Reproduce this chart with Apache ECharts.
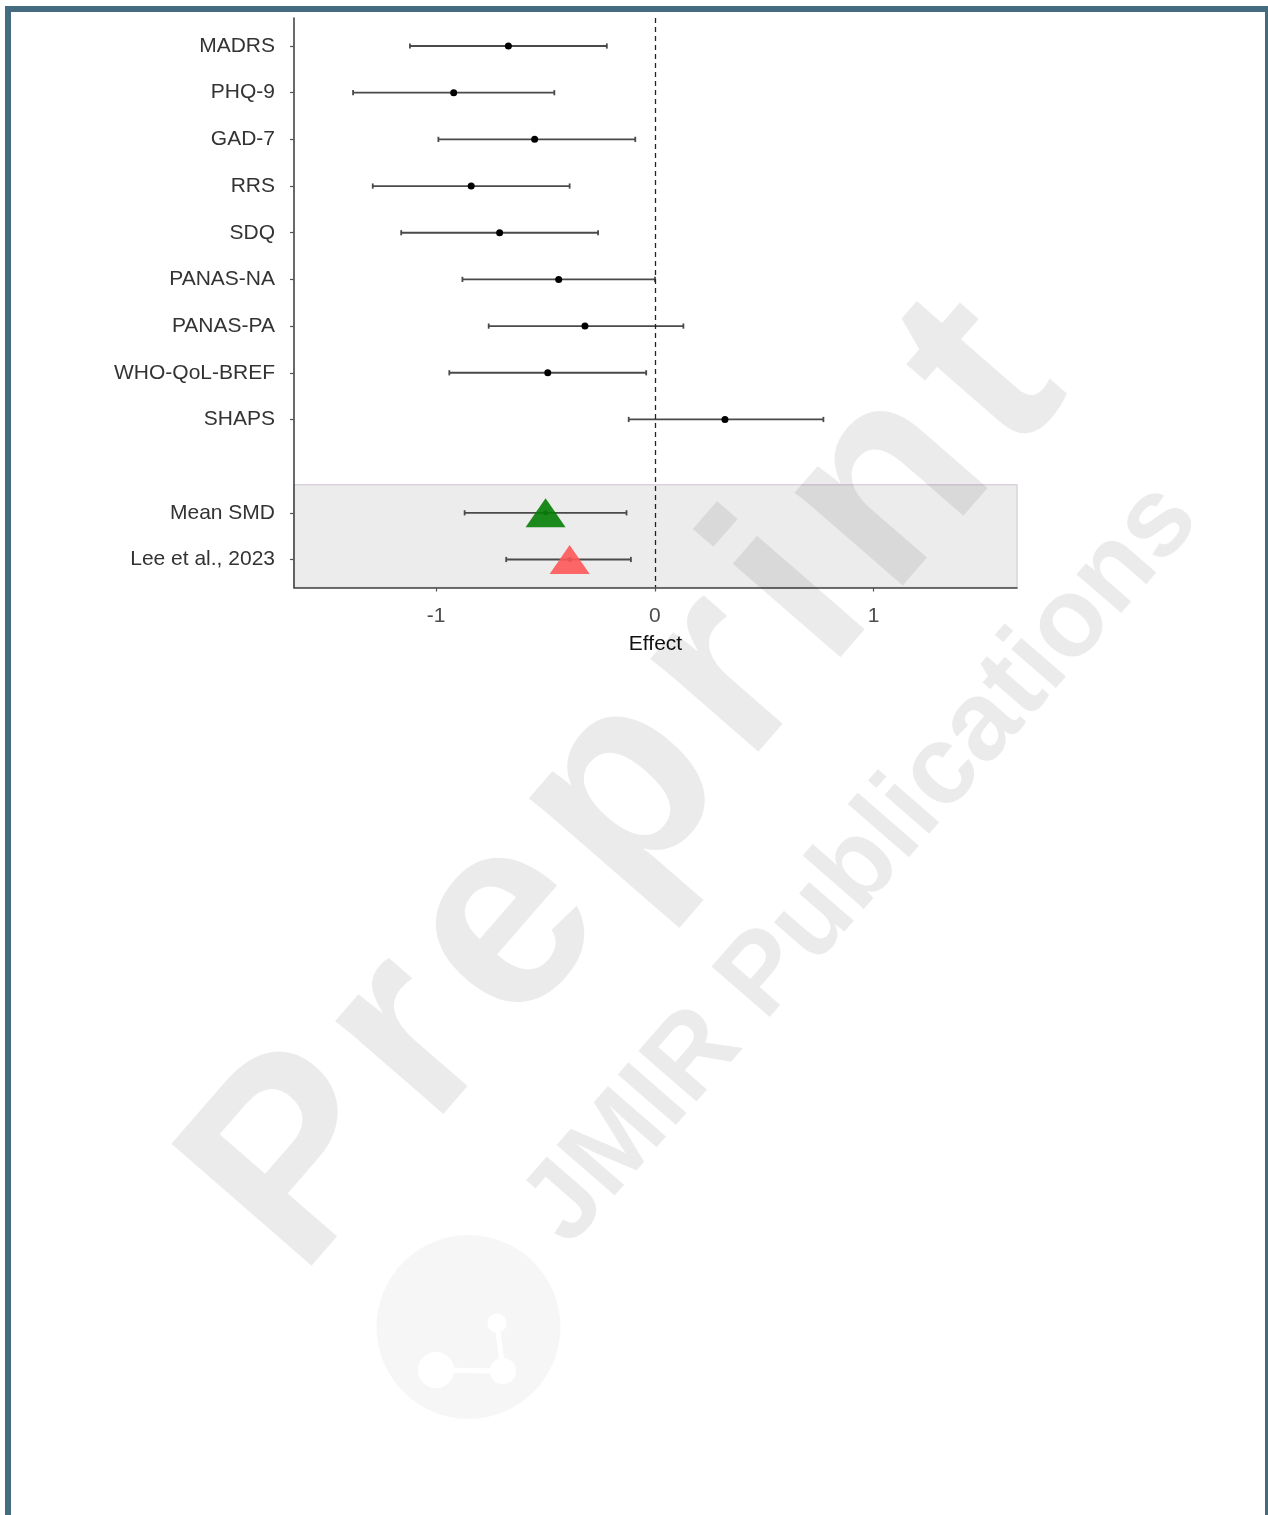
<!DOCTYPE html>
<html>
<head>
<meta charset="utf-8">
<title>Effect sizes by outcome measure</title>
<script src="https://cdn.jsdelivr.net/npm/echarts@6/dist/echarts.min.js"></script>
<style>
  html, body { margin: 0; padding: 0; background: #ffffff; overflow: hidden; }
  #frame {
    position: absolute; left: 5px; top: 6px;
    width: 1254px; height: 1530px;
    border: 6px solid #456b80; border-bottom: none;
    background: #ffffff;
  }
  #chart { position: absolute; left: 0; top: 0; width: 1268px; height: 1515px; }
</style>
</head>
<body>
<div id="frame"></div>
<div id="chart"></div>
<script>
// Individual outcome measures: standardised mean difference with 95% CI
const measures = ['MADRS', 'PHQ-9', 'GAD-7', 'RRS', 'SDQ', 'PANAS-NA', 'PANAS-PA', 'WHO-QoL-BREF', 'SHAPS'];
const estimate = [-0.67, -0.92, -0.55, -0.84, -0.71, -0.44, -0.32, -0.49, 0.32];
const lower    = [-1.12, -1.38, -0.99, -1.29, -1.16, -0.88, -0.76, -0.94, -0.12];
const upper    = [-0.22, -0.46, -0.09, -0.39, -0.26, 0.00, 0.13, -0.04, 0.77];

// Pooled results shown in the shaded panel
const pooledLabels   = ['Mean SMD', 'Lee et al., 2023'];
const pooledEstimate = [-0.50, -0.39];
const pooledLower    = [-0.87, -0.68];
const pooledUpper    = [-0.13, -0.11];
const pooledColors   = ['rgba(4,126,4,0.9)', 'rgba(255,88,88,0.9)'];

// x axis tick labels
const xTicks = [-1, 0, 1];

// One row per line of the plot; the empty row separates the pooled panel
const rowLabels = [...measures, '', ...pooledLabels];
const rowOf = name => rowLabels.indexOf(name) + 1;

const X_MIN = -1.65, X_MAX = 1.655;
const Y_MIN = 0.4, Y_MAX = rowLabels.length + 0.6;
const PANEL_TOP = rowOf(pooledLabels[0]) - 0.6;

const labelRows = rowLabels.map((l, i) => i + 1).filter(v => rowLabels[v - 1] !== '');

const barData = measures.map((m, i) => [rowOf(m), lower[i], upper[i]])
  .concat(pooledLabels.map((m, i) => [rowOf(m), pooledLower[i], pooledUpper[i]]));
const pointData = measures.map((m, i) => [estimate[i], rowOf(m)]);
const pooledPointData = pooledLabels.map((m, i) => [pooledEstimate[i], rowOf(m)]);
const triangleData = pooledLabels.map((m, i) => ({
  value: [pooledEstimate[i], rowOf(m)],
  itemStyle: { color: pooledColors[i], opacity: 1 }
}));

const FONT = '"Liberation Sans", Arial, Helvetica, sans-serif';

function renderInterval(params, api) {
  const row = api.value(0);
  const a = api.coord([api.value(1), row]);
  const b = api.coord([api.value(2), row]);
  const cap = 2.6;
  const style = { stroke: '#4a4a4a', lineWidth: 1.8 };
  return {
    type: 'group',
    children: [
      { type: 'line', shape: { x1: a[0], y1: a[1], x2: b[0], y2: b[1] }, style },
      { type: 'line', shape: { x1: a[0], y1: a[1] - cap, x2: a[0], y2: a[1] + cap }, style },
      { type: 'line', shape: { x1: b[0], y1: b[1] - cap, x2: b[0], y2: b[1] + cap }, style }
    ]
  };
}

// Diagonal publisher watermark, laid out glyph by glyph along a baseline
function lettering(text, cx, cy, angleDeg, size, spacing, color) {
  const ctx = document.createElement('canvas').getContext('2d');
  const font = 'bold ' + size + 'px ' + FONT;
  ctx.font = font;
  const chars = [...text];
  const widths = chars.map(c => ctx.measureText(c).width);
  const total = widths.reduce((s, w) => s + w, 0) + spacing * (chars.length - 1);
  const rad = angleDeg * Math.PI / 180;
  const ux = Math.cos(rad), uy = -Math.sin(rad);
  let pos = -total / 2;
  const out = [];
  chars.forEach((c, i) => {
    const mid = pos + widths[i] / 2;
    pos += widths[i] + spacing;
    if (c === ' ') return;
    out.push({
      type: 'text', x: cx + ux * mid, y: cy + uy * mid, rotation: rad,
      silent: true, z: 100,
      style: { text: c, font, fill: color, align: 'center', verticalAlign: 'middle',
               textAlign: 'center', textVerticalAlign: 'middle' }
    });
  });
  return out;
}

const wm = 'rgba(0,0,0,0.08)';
const logo = [
  { type: 'circle', shape: { cx: 468.5, cy: 1327, r: 92 }, style: { fill: 'rgba(0,0,0,0.035)' }, silent: true, z: 99 },
  { type: 'line', shape: { x1: 436, y1: 1370, x2: 503, y2: 1371 }, style: { stroke: '#ffffff', lineWidth: 5 }, silent: true, z: 100 },
  { type: 'line', shape: { x1: 497, y1: 1323, x2: 503, y2: 1371 }, style: { stroke: '#ffffff', lineWidth: 5 }, silent: true, z: 100 },
  { type: 'circle', shape: { cx: 436, cy: 1370, r: 18 }, style: { fill: '#ffffff' }, silent: true, z: 100 },
  { type: 'circle', shape: { cx: 497, cy: 1323, r: 9.5 }, style: { fill: '#ffffff' }, silent: true, z: 100 },
  { type: 'circle', shape: { cx: 503, cy: 1371, r: 13 }, style: { fill: '#ffffff' }, silent: true, z: 100 }
];

const chart = echarts.init(document.getElementById('chart'), null, { renderer: 'canvas' });

chart.setOption({
  backgroundColor: 'transparent',
  animation: false,
  textStyle: { fontFamily: FONT },
  grid: { left: 294, right: 251, top: 18, bottom: 927.5, containLabel: false, outerBoundsMode: 'none' },
  xAxis: {
    type: 'value', min: X_MIN, max: X_MAX, z: 5,
    name: 'Effect', nameLocation: 'middle', nameGap: 46,
    nameTextStyle: { color: '#111111', fontSize: 21, fontFamily: FONT },
    axisLine: { show: true, onZero: false, lineStyle: { color: '#444444', width: 1.6 } },
    axisTick: { show: true, length: 4, customValues: xTicks, lineStyle: { color: '#555555', width: 1.2 } },
    axisLabel: { customValues: xTicks, margin: 18, color: '#4d4d4d', fontSize: 21, fontFamily: FONT,
                 formatter: v => String(v) },
    splitLine: { show: false }
  },
  yAxis: {
    type: 'value', inverse: true, min: Y_MIN, max: Y_MAX, z: 5,
    axisLine: { show: true, onZero: false, lineStyle: { color: '#444444', width: 1.6 } },
    axisTick: { show: true, length: 4, customValues: labelRows, lineStyle: { color: '#555555', width: 1.2 } },
    axisLabel: { customValues: labelRows, margin: 19, color: '#333333', fontSize: 21, fontFamily: FONT,
                 formatter: v => rowLabels[Math.round(v) - 1] || '' },
    splitLine: { show: false }
  },
  graphic: [
    ...logo,
    ...lettering('Preprint', 629, 787, 49, 270, 20, wm),
    ...lettering('JMIR Publications', 862, 864, 49, 112, 0, wm)
  ],
  series: [
    {
      // shaded panel behind the pooled estimates
      type: 'scatter', data: [], z: 1, silent: true,
      markArea: {
        silent: true,
        itemStyle: { color: '#ececec', borderColor: '#dcd2de', borderWidth: 1.5, opacity: 1 },
        data: [[{ xAxis: X_MIN, yAxis: PANEL_TOP }, { xAxis: X_MAX, yAxis: Y_MAX }]]
      }
    },
    {
      type: 'custom', renderItem: renderInterval, data: barData, z: 3, silent: true,
      encode: { x: [1, 2], y: 0 }
    },
    {
      type: 'scatter', data: pointData, z: 4, silent: true,
      symbol: 'circle', symbolSize: 7, itemStyle: { color: '#000000', opacity: 1 },
      markLine: {
        silent: true, symbol: ['none', 'none'], label: { show: false },
        lineStyle: { color: '#222222', width: 1.3, type: [5, 4] },
        data: [{ xAxis: 0 }]
      }
    },
    {
      type: 'scatter', data: pooledPointData, z: 4, silent: true,
      symbol: 'circle', symbolSize: 5, itemStyle: { color: '#333333', opacity: 1 }
    },
    {
      type: 'scatter', data: triangleData, z: 5, silent: true,
      symbol: 'triangle', symbolSize: [40, 29], itemStyle: { opacity: 1 }
    }
  ]
});
</script>
</body>
</html>
